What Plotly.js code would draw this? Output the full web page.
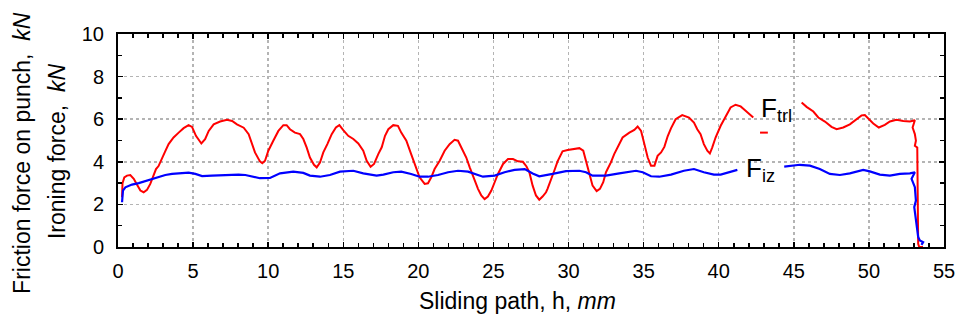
<!DOCTYPE html>
<html>
<head>
<meta charset="utf-8">
<script src="https://cdn.plot.ly/plotly-3.0.1.min.js"></script>
<style>html,body{margin:0;padding:0;background:#fff;}#chart{width:959px;height:320px;}</style>
</head>
<body>
<div id="chart"></div>
<script>
// Friction force on punch (F_trl), kN vs sliding path, mm
const redX = [0.27,0.3,0.42,0.6,0.82,1.05,1.25,1.49,1.71,1.93,2.15,2.3,2.53,2.7,2.93,3.15,3.37,3.7,4.04,4.37,4.7,4.93,5.19,5.55,5.8,6.04,6.37,6.8,7.26,7.6,7.92,8.37,8.7,8.92,9.12,9.45,9.61,9.79,10.01,10.34,10.68,11.01,11.23,11.45,11.78,12.12,12.34,12.56,12.78,13.05,13.23,13.45,13.67,13.94,14.23,14.51,14.74,15.0,15.33,15.67,16.0,16.33,16.56,16.82,17.05,17.33,17.56,17.78,18.0,18.33,18.64,18.86,19.2,19.52,19.86,20.08,20.42,20.64,20.86,21.08,21.42,21.75,22.08,22.41,22.64,22.86,23.19,23.42,23.71,23.97,24.19,24.41,24.63,24.86,25.08,25.3,25.64,25.97,26.3,26.63,26.96,27.2,27.39,27.61,27.83,28.05,28.27,28.5,28.6,28.83,29.05,29.27,29.6,29.94,30.27,30.72,30.98,31.16,31.38,31.6,31.87,32.09,32.31,32.49,32.6,32.82,33.04,33.27,33.6,34.05,34.38,34.6,34.83,35.05,35.27,35.49,35.72,35.93,36.16,36.38,36.6,36.82,37.13,37.57,38.02,38.35,38.57,38.79,39.01,39.24,39.41,39.57,39.79,40.13,40.46,40.79,41.12,41.46,41.79,42.23,42.3,null,42.75,43.27,null,45.52,45.85,46.3,46.63,47.07,47.51,47.85,48.29,48.73,49.18,49.51,49.73,49.95,50.29,50.66,51.06,51.4,51.84,52.29,52.73,53.06,52.91,53.06,53.13,53.06,53.22,53.28,53.35,53.6];
const redY = [2.34,3.0,3.27,3.35,3.38,3.2,2.95,2.65,2.57,2.68,2.96,3.24,3.66,3.8,4.2,4.5,4.83,5.14,5.37,5.58,5.72,5.64,5.22,4.86,5.06,5.45,5.76,5.89,5.97,5.92,5.76,5.6,5.3,4.83,4.44,4.02,3.93,4.05,4.52,4.99,5.45,5.72,5.72,5.53,5.37,5.3,5.07,4.68,4.2,3.86,3.74,3.97,4.44,4.83,5.3,5.61,5.72,5.49,5.22,5.07,4.86,4.52,4.05,3.77,3.9,4.36,4.68,5.22,5.53,5.72,5.69,5.37,4.99,4.36,3.74,3.27,2.96,2.99,3.27,3.66,4.05,4.52,4.83,5.03,4.99,4.68,4.2,3.74,3.19,2.73,2.42,2.25,2.37,2.65,3.04,3.43,3.9,4.13,4.13,4.02,4.0,3.78,3.51,2.88,2.42,2.22,2.37,2.57,2.73,3.12,3.58,4.02,4.49,4.55,4.6,4.64,4.52,4.05,3.43,2.88,2.62,2.73,3.04,3.51,3.66,3.97,4.36,4.68,5.14,5.37,5.5,5.66,5.45,4.83,4.2,3.82,3.82,4.28,4.44,4.7,5.2,5.57,6.0,6.19,6.08,5.84,5.53,5.3,4.83,4.52,4.39,4.68,5.14,5.69,6.16,6.55,6.68,6.6,6.4,6.11,6.08,null,5.37,5.37,null,6.78,6.58,6.36,6.08,5.89,5.64,5.53,5.61,5.76,6.0,6.18,6.2,6.04,5.8,5.61,5.73,5.89,5.97,5.92,5.89,5.95,5.61,5.3,4.99,4.75,4.67,0.15,0.0,0.0];
// Ironing force (F_iz), kN vs sliding path, mm
const blueX = [0.27,0.33,0.49,0.93,1.38,1.82,2.26,2.7,3.15,3.6,4.04,4.7,5.15,5.6,6.26,7.15,8.03,8.48,8.92,9.45,10.12,10.79,11.67,12.34,12.78,13.45,14.11,14.78,15.67,16.33,17.22,17.67,18.33,18.86,19.52,20.08,20.64,21.31,21.98,22.64,23.31,23.75,24.3,25.08,25.74,26.41,27.08,27.61,28.05,28.94,29.83,30.72,31.16,31.6,32.49,33.38,34.49,34.94,35.49,36.04,36.82,37.68,38.35,39.01,39.68,40.13,40.68,41.24,null,44.36,45.4,46.07,46.73,47.4,48.07,48.73,49.62,50.06,50.73,51.4,52.06,52.73,53.06,52.84,53.06,53.13,53.02,53.28,53.39,53.61,53.5];
const blueY = [2.1,2.65,2.8,2.93,3.0,3.1,3.19,3.3,3.38,3.43,3.46,3.49,3.43,3.33,3.35,3.38,3.4,3.38,3.3,3.23,3.24,3.46,3.54,3.48,3.35,3.3,3.38,3.54,3.58,3.46,3.35,3.4,3.51,3.54,3.43,3.3,3.3,3.38,3.51,3.58,3.54,3.43,3.3,3.35,3.51,3.62,3.66,3.45,3.32,3.43,3.56,3.58,3.51,3.35,3.35,3.46,3.58,3.51,3.32,3.3,3.4,3.58,3.66,3.51,3.4,3.4,3.51,3.62,null,3.77,3.86,3.82,3.66,3.43,3.38,3.46,3.62,3.55,3.4,3.35,3.43,3.46,3.51,3.2,2.81,2.18,1.87,0.47,0.31,0.23,0.1];
const xTickVals = [0,5,10,15,20,25,30,35,40,45,50,55];
const yTickVals = [0,2,4,6,8,10];
const xTitle = 'Sliding path, h, <i>mm</i>';
const yTitle1 = 'Friction force on punch,  <i>kN</i>';
const yTitle2 = 'Ironing force,  <i>kN</i>';
const labelTrl = 'F<sub>trl</sub>';
const labelIz = 'F<sub>iz</sub>';

const FONT = 'Liberation Sans, Arial, sans-serif';
const traces = [
  {x: redX, y: redY, type: 'scatter', mode: 'lines', line: {color: '#ff0000', width: 2}, hoverinfo: 'skip'},
  {x: blueX, y: blueY, type: 'scatter', mode: 'lines', line: {color: '#0000ff', width: 2.2}, hoverinfo: 'skip'}
];
const axisCommon = {
  showline: true, linecolor: '#000', linewidth: 2, mirror: 'allticks',
  ticks: 'inside', ticklen: 5, tickwidth: 1.5, tickcolor: '#000',
  showgrid: true, gridcolor: '#b4b4b4', gridwidth: 1.5, griddash: '3px,3px',
  zeroline: false, tickfont: {family: FONT, size: 20, color: '#000'},
  minor: {dtick: 1, ticks: 'inside', ticklen: 4, tickwidth: 1.5, tickcolor: '#000', showgrid: false}
};
const layout = {
  width: 959, height: 320,
  margin: {l: 118, r: 15, t: 34, b: 73},
  paper_bgcolor: '#fff', plot_bgcolor: '#fff',
  showlegend: false,
  xaxis: Object.assign({}, axisCommon, {range: [0, 55], tickmode: 'array', tickvals: xTickVals, ticklabelstandoff: 5}),
  yaxis: Object.assign({}, axisCommon, {range: [0, 10], tickmode: 'array', tickvals: yTickVals, ticklabelstandoff: 8}),
  annotations: [
    {xref: 'paper', yref: 'paper', x: 0.484, y: -0.2535, xanchor: 'center', yanchor: 'middle', showarrow: false,
     text: xTitle, font: {family: FONT, size: 23, color: '#000'}},
    {xref: 'paper', yref: 'paper', x: -0.1155, y: 0.44, xanchor: 'center', yanchor: 'middle', showarrow: false, textangle: -90,
     text: yTitle1, font: {family: FONT, size: 23, color: '#000'}},
    {xref: 'paper', yref: 'paper', x: -0.074, y: 0.45, xanchor: 'center', yanchor: 'middle', showarrow: false, textangle: -90,
     text: yTitle2, font: {family: FONT, size: 23, color: '#000'}},
    {xref: 'x', yref: 'y', x: 42.7, y: 6.45, xanchor: 'left', yanchor: 'middle', showarrow: false,
     text: labelTrl, font: {family: FONT, size: 26, color: '#000'}},
    {xref: 'x', yref: 'y', x: 41.7, y: 3.65, xanchor: 'left', yanchor: 'middle', showarrow: false,
     text: labelIz, font: {family: FONT, size: 26, color: '#000'}}
  ]
};
Plotly.newPlot('chart', traces, layout, {staticPlot: true, displayModeBar: false});
</script>
</body>
</html>
